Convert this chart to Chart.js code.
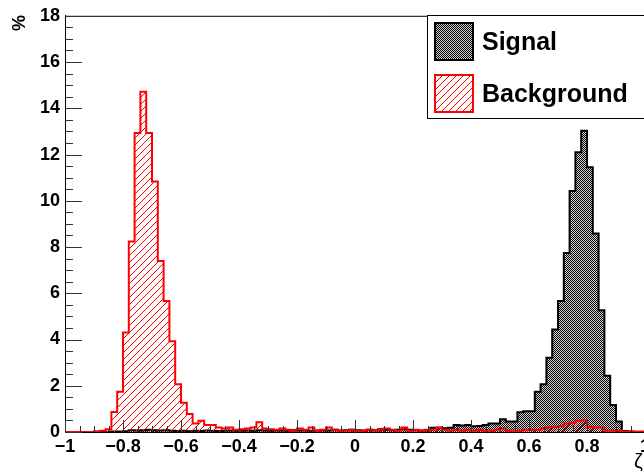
<!DOCTYPE html>
<html>
<head>
<meta charset="utf-8">
<script src="https://cdn.jsdelivr.net/npm/chart.js@4/dist/chart.umd.min.js"></script>
<style>
html,body{margin:0;padding:0;overflow:hidden;background:#fff;}
#wrap{position:absolute;left:0;top:0;width:700px;height:474px;}
</style>
</head>
<body>
<div id="wrap"><canvas id="c" width="700" height="474"></canvas></div>
<script>
// ---- data ----
const xMin = -1, xMax = 1, nBins = 100;
const xTickLabels = ["−1","−0.8","−0.6","−0.4","−0.2","0","0.2","0.4","0.6","0.8","1"];
const yTickLabels = ["0","2","4","6","8","10","12","14","16","18"];
const seriesNames = ["Signal","Background"];
const signal = [
  0,0,0,0,0,0.02,0,0,0.02,0.02,
  0.03,0.08,0.06,0.08,0.1,0.08,0.06,0.08,0.05,0.04,
  0.05,0.03,0.05,0.04,0.06,0.05,0.04,0.05,0.06,0.05,
  0.05,0.06,0.05,0.08,0.06,0.05,0.07,0.06,0.05,0.08,
  0.06,0.07,0.05,0.06,0.08,0.06,0.1,0.07,0.08,0.1,
  0.08,0.06,0.1,0.08,0.12,0.1,0.08,0.1,0.12,0.1,
  0.08,0.07,0.07,0.18,0.18,0.16,0.18,0.3,0.28,0.3,
  0.25,0.26,0.3,0.37,0.37,0.55,0.45,0.45,0.85,0.9,
  0.9,1.74,2.07,3.21,4.43,5.67,7.74,10.42,12.1,13.03,
  11.45,8.58,5.27,2.43,1.17,0.45,0.04,0.02,0,0
];
const background = [
  0,0,0,0,0,0,0.05,0.12,0.87,1.74,
  4.3,8.24,12.93,14.72,12.93,10.83,7.4,5.67,3.93,2.07,
  1.27,0.78,0.37,0.49,0.3,0.3,0.2,0.15,0.2,0.1,
  0.12,0.15,0.2,0.42,0.15,0.12,0.1,0.15,0.1,0.05,
  0.15,0.1,0.2,0.05,0.1,0.2,0.1,0.05,0.05,0.1,
  0.05,0.05,0.1,0.05,0.1,0.15,0.1,0.05,0.2,0.05,
  0.1,0.05,0.1,0.1,0.2,0.1,0.05,0.1,0.05,0.1,
  0.05,0.1,0.05,0.05,0.1,0.15,0.05,0.05,0.05,0.1,
  0.1,0.1,0.15,0.2,0.23,0.25,0.37,0.4,0.49,0.5,
  0.23,0.2,0.2,0.05,0.05,0.05,0.02,0.02,0.02,0.02
];

// ---- helpers ----
const binWidth = (xMax - xMin) / nBins;
function toSteps(vals){
  const pts = vals.map((v,i)=>({x: xMin + i*binWidth, y: v}));
  pts.push({x: xMax, y: 0});
  return pts;
}
function signalPattern(){
  const c=document.createElement('canvas'); c.width=2; c.height=2;
  const g=c.getContext('2d');
  g.fillStyle='#d4d4d4'; g.fillRect(0,0,2,2);
  g.fillStyle='#000000'; g.fillRect(0,0,1,1); g.fillRect(1,1,1,1);
  return g.createPattern(c,'repeat');
}
function hatchPattern(){
  const n=7;
  const c=document.createElement('canvas'); c.width=n; c.height=n;
  const g=c.getContext('2d');
  g.fillStyle='#ff0000';
  for(let i=0;i<n;i++){ g.fillRect(i, n-1-i, 1, 1); }
  return g.createPattern(c,'repeat');
}
const sigPat = signalPattern();
const bkgPat = hatchPattern();
const FONT = "'Liberation Sans', Arial, Helvetica, sans-serif";

const rootStyle = {
  id: 'rootStyle',
  afterDraw(chart){
    const ctx = chart.ctx, a = chart.chartArea;
    const xs = chart.scales.x, ys = chart.scales.y;
    ctx.save();
    // frame top/right
    ctx.strokeStyle = '#000'; ctx.lineWidth = 1;
    ctx.beginPath();
    ctx.moveTo(a.left, a.top + 0.5); ctx.lineTo(a.right, a.top + 0.5);
    ctx.lineTo(a.right, a.bottom);
    ctx.stroke();
    // ticks
    ctx.strokeStyle = '#333'; ctx.lineWidth = 1;
    ctx.beginPath();
    for (let k = 0; k <= 36; k++){
      const v = k*0.5;
      const y = Math.round(ys.getPixelForValue(v)) + 0.5;
      const len = (k % 4 === 0) ? 17 : 8;
      ctx.moveTo(a.left, y); ctx.lineTo(a.left + len, y);
    }
    for (let k = 0; k <= 40; k++){
      const v = xMin + k*0.05;
      const x = Math.round(xs.getPixelForValue(v)) + 0.5;
      const len = (k % 4 === 0) ? 12 : 6;
      ctx.moveTo(x, a.bottom); ctx.lineTo(x, a.bottom - len);
    }
    ctx.stroke();
    // y title "%"
    ctx.fillStyle = '#000';
    ctx.font = "bold 18px " + FONT;
    ctx.save();
    ctx.translate(20, 15);
    ctx.rotate(-Math.PI/2);
    ctx.textAlign = 'right'; ctx.textBaseline = 'middle';
    ctx.fillText('%', 0, 0);
    ctx.restore();
    // x title
    ctx.font = "20px " + FONT;
    ctx.textAlign = 'left'; ctx.textBaseline = 'alphabetic';
    ctx.fillText('ζ', 634, 468);
    // legend
    const lx = 427.5, ly = 15.5, lw = 260, lh = 103;
    ctx.fillStyle = '#fff';
    ctx.fillRect(lx, ly, lw, lh);
    ctx.strokeStyle = '#000'; ctx.lineWidth = 1;
    ctx.strokeRect(lx, ly, lw, lh);
    ctx.fillStyle = sigPat; ctx.fillRect(435, 23, 38, 37);
    ctx.strokeStyle = '#000'; ctx.lineWidth = 2; ctx.strokeRect(435, 23, 38, 37);
    ctx.fillStyle = bkgPat; ctx.fillRect(435, 75, 38, 37);
    ctx.strokeStyle = '#ff0000'; ctx.lineWidth = 2; ctx.strokeRect(435, 75, 38, 37);
    ctx.fillStyle = '#000';
    ctx.font = "bold 25px " + FONT;
    ctx.textAlign = 'left'; ctx.textBaseline = 'alphabetic';
    ctx.fillText(seriesNames[0], 482, 50);
    ctx.fillText(seriesNames[1], 482, 102);
    ctx.restore();
  }
};

new Chart(document.getElementById('c'), {
  type: 'line',
  data: {
    datasets: [
      {
        label: seriesNames[0],
        data: toSteps(signal),
        stepped: true,
        borderColor: '#000',
        borderWidth: 2,
        backgroundColor: sigPat,
        fill: 'origin',
        pointRadius: 0,
        order: 1
      },
      {
        label: seriesNames[1],
        data: toSteps(background),
        stepped: true,
        borderColor: '#ff0000',
        borderWidth: 2,
        backgroundColor: bkgPat,
        fill: 'origin',
        pointRadius: 0,
        order: 0
      }
    ]
  },
  options: {
    responsive: false,
    animation: false,
    events: [],
    layout: { padding: { top: 15, right: 55, left: 0, bottom: 0 } },
    plugins: { legend: { display: false }, tooltip: { enabled: false } },
    scales: {
      x: {
        type: 'linear', min: xMin, max: xMax,
        grid: { display: false, drawTicks: false },
        border: { display: true, color: '#000', width: 1 },
        ticks: {
          stepSize: 0.2, autoSkip: false, maxRotation: 0, padding: 4,
          color: '#000', font: { family: FONT, size: 18, weight: 'bold' },
          callback: (v) => xTickLabels[Math.round((v - xMin) / 0.2)]
        },
        afterFit: (s) => { s.height = 42; }
      },
      y: {
        type: 'linear', min: 0, max: 18,
        grid: { display: false, drawTicks: false },
        border: { display: true, color: '#000', width: 1 },
        ticks: {
          stepSize: 2, padding: 5,
          color: '#000', font: { family: FONT, size: 18, weight: 'bold' },
          callback: (v) => yTickLabels[Math.round(v / 2)]
        },
        afterFit: (s) => { s.width = 65; }
      }
    }
  },
  plugins: [rootStyle]
});
</script>
</body>
</html>
